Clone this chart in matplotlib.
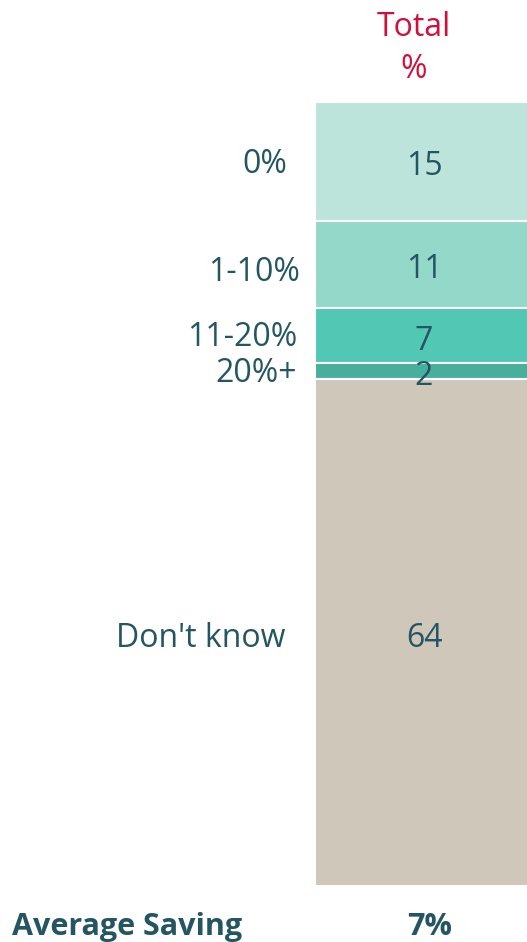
import matplotlib.pyplot as plt

# answer categories and share of respondents (%), top to bottom
categories = ["0%", "1-10%", "11-20%", "20%+", "Don't know"]
values = [15, 11, 7, 2, 64]
colours = ["#BDE4DB", "#94D8CA", "#52C8B4", "#47AF9C", "#CFC7BA"]
average_saving = "7%"

text_col = "#245563"
plt.rcParams['font.family'] = ['Open Sans', 'DejaVu Sans']
fs = 23

fig = plt.figure(figsize=(5.27, 9.42), dpi=100)
ax = fig.add_axes([315 / 527, 56 / 942, 218 / 527, 784 / 942])

total = sum(values)
bottom = 0
centres = []
for v, c in zip(values, colours):
    ax.bar(0, v, bottom=bottom, width=1, color=c, edgecolor="white", linewidth=1.5)
    centres.append(bottom + v / 2)
    ax.annotate(str(v), xy=(0, bottom + v / 2), xytext=(0, -4),
                textcoords="offset points", ha="center", va="center",
                fontsize=fs, color=text_col)
    bottom += v

ax.set_xlim(-0.5, 0.5)
ax.set_ylim(total, 0)
ax.axis("off")

# category labels to the left of the bar
label_dx = [-28, -15, -18, -18, -30]   # pixel offsets from bar left edge
label_dy = [3, 8, 2, 2, 6]
for lab, y, dx, dy in zip(categories, centres, label_dx, label_dy):
    ax.annotate(lab, xy=(-0.5, y), xytext=(dx * 0.72, -dy * 0.72),
                textcoords="offset points", ha="right", va="center",
                fontsize=fs, color=text_col, annotation_clip=False)

fig.text(414 / 527, 1 - 27 / 942, "Total", ha="center", va="center",
         fontsize=fs, color="#D0103A")
fig.text(414 / 527, 1 - 70 / 942, "%", ha="center", va="center",
         fontsize=fs, color="#D0103A")

fig.text(12 / 527, 1 - 927 / 942, "Average Saving", ha="left", va="center",
         fontsize=22, fontweight="bold", color=text_col)
fig.text(430 / 527, 1 - 927 / 942, average_saving, ha="center", va="center",
         fontsize=22, fontweight="bold", color=text_col)

fig.savefig("out.png", dpi=100)
